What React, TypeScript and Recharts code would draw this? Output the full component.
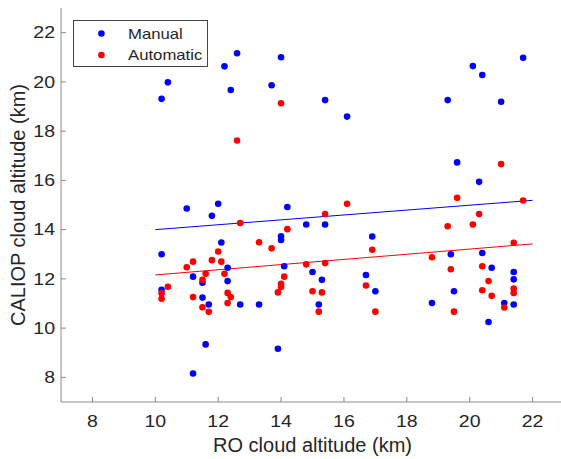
import React from 'react';
import { ScatterChart, Scatter, XAxis, YAxis, ReferenceLine, Legend, Label } from 'recharts';

const manualX = [10.2, 10.4, 12.2, 12.6, 12.4, 13.7, 14.0, 11.0, 11.8, 12.0, 15.4, 16.1, 19.3, 20.1, 20.4, 21.0, 21.7, 19.6, 20.3, 14.2, 14.8, 15.4, 10.2, 10.2, 11.2, 11.5, 11.5, 11.7, 12.1, 12.3, 12.3, 12.7, 13.3, 11.6, 11.2, 13.9, 14.0, 14.0, 14.1, 15.0, 15.3, 15.2, 16.9, 16.7, 17.0, 18.8, 19.4, 19.5, 20.4, 20.7, 20.6, 21.1, 21.4, 21.4, 21.4];
const manualY = [19.31, 19.98, 20.63, 21.16, 19.67, 19.86, 21.0, 14.86, 14.56, 15.05, 19.26, 18.59, 19.26, 20.64, 20.28, 19.19, 20.98, 16.73, 15.94, 14.92, 14.21, 14.21, 13.0, 11.56, 12.09, 11.84, 11.24, 10.96, 13.48, 12.45, 11.91, 10.96, 10.96, 9.34, 8.16, 9.16, 13.73, 13.58, 12.51, 12.28, 11.96, 10.96, 13.72, 12.16, 11.5, 11.02, 13.0, 11.5, 13.05, 12.45, 10.25, 11.02, 12.28, 11.98, 10.96];
const autoX = [12.6, 12.7, 14.0, 21.0, 19.6, 16.1, 15.4, 21.7, 20.3, 20.1, 19.3, 14.2, 10.2, 10.2, 10.4, 11.0, 11.2, 11.2, 11.5, 11.6, 11.5, 11.7, 11.8, 12.0, 12.1, 12.2, 12.3, 12.4, 12.3, 13.3, 13.7, 13.9, 14.0, 14.0, 14.1, 14.8, 15.4, 15.0, 15.3, 15.2, 16.9, 18.8, 19.4, 16.7, 17.0, 20.4, 20.6, 20.4, 20.7, 21.1, 21.4, 21.4, 21.4, 19.5];
const autoY = [17.62, 14.27, 19.13, 16.66, 15.29, 15.05, 14.63, 15.18, 14.63, 14.21, 14.14, 14.02, 11.42, 11.19, 11.68, 12.47, 12.7, 11.26, 11.96, 12.21, 10.85, 10.66, 12.76, 13.11, 12.7, 12.21, 11.43, 11.26, 11.02, 13.49, 13.24, 11.45, 11.8, 11.67, 12.09, 12.59, 12.64, 11.5, 11.45, 10.67, 13.18, 12.88, 12.39, 11.73, 10.67, 12.51, 11.91, 11.54, 11.31, 10.84, 13.47, 11.61, 11.43, 10.67];

const manualFit = [{ x: 10, y: 14.0 }, { x: 22, y: 15.19 }];
const autoFit = [{ x: 10, y: 12.16 }, { x: 22, y: 13.42 }];

const xTicks = [8, 10, 12, 14, 16, 18, 20, 22];
const yTicks = [8, 10, 12, 14, 16, 18, 20, 22];
const xDomain = [7, 23];
const yDomain = [7, 23];

const seriesNames = ['Manual', 'Automatic'];
const seriesColors = ['#0000ff', '#ff0000'];

const manualData = manualX.map((x, i) => ({ x, y: manualY[i] }));
const autoData = autoX.map((x, i) => ({ x, y: autoY[i] }));

const AX = '#8a8a8a';
const TXT = '#262626';
const FONT = '"Liberation Sans", Arial, Helvetica, sans-serif';

const XTick = (p: any) => (
  <text x={0} y={0} transform={`translate(${p.x},${p.y}) scale(1.22,1)`} dy="0.71em" textAnchor="middle" fontSize={16} fontFamily={FONT} fill={TXT}>
    {p.payload.value}
  </text>
);
const YTick = (p: any) => (
  <text x={0} y={0} transform={`translate(${p.x},${p.y}) scale(1.22,1)`} dy="0.36em" textAnchor="end" fontSize={16} fontFamily={FONT} fill={TXT}>
    {p.payload.value}
  </text>
);
const NoTick = () => null;

const XLabel = (p: any) => {
  const vb = p.viewBox || { x: 53, y: 394, width: 503, height: 57 };
  return (
    <text x={vb.x + vb.width / 2} y={vb.y + 49.5} textAnchor="middle" fontSize={20} fontFamily={FONT} fill={TXT}>
      RO cloud altitude (km)
    </text>
  );
};
const YLabel = (p: any) => {
  const vb = p.viewBox || { x: 0, y: 0, width: 53, height: 394 };
  const cx = vb.x + 10;
  const cy = vb.y + vb.height / 2;
  return (
    <text x={cx} y={cy} transform={`rotate(-90, ${cx}, ${cy})`} textAnchor="middle" dominantBaseline="central" fontSize={20} fontFamily={FONT} fill={TXT}>
      CALIOP cloud altitude (km)
    </text>
  );
};

const Dot = (color: string) => (p: any) => <circle cx={p.cx} cy={p.cy} r={3.3} fill={color} />;

const LegendBox = () => (
  <svg width={136} height={48} style={{ display: 'block' }}>
    <rect x={0.5} y={0.5} width={134} height={46} fill="#ffffff" stroke="#444" strokeWidth={1} />
    {seriesNames.map((n, i) => (
      <g key={n}>
        <circle cx={28.4} cy={13.5 + i * 21.5} r={3.3} fill={seriesColors[i]} />
        <text x={0} y={0} transform={`translate(55, ${14 + i * 21}) scale(1.13,1)`} dy="0.36em" fontSize={14.8} fontFamily={FONT} fill={TXT}>
          {n}
        </text>
      </g>
    ))}
  </svg>
);

export default function App() {
  return (
    <div style={{ position: 'fixed', left: 0, top: 0, width: 561, height: 459, overflow: 'hidden', background: '#fff' }}>
      <div style={{ position: 'absolute', left: 8, top: 8 }}>
        <ScatterChart width={556} height={451} margin={{ top: 0, right: 0, bottom: 0, left: 0 }}>
          <XAxis
            xAxisId="b"
            type="number"
            dataKey="x"
            domain={xDomain}
            ticks={xTicks}
            interval={0}
            allowDataOverflow
            height={57}
            tickSize={-5}
            tickMargin={19}
            axisLine={{ stroke: AX }}
            tickLine={{ stroke: AX }}
            tick={XTick}
          >
            <Label content={XLabel} />
          </XAxis>
          <XAxis
            xAxisId="t"
            orientation="top"
            type="number"
            domain={xDomain}
            ticks={xTicks}
            interval={0}
            allowDataOverflow
            height={0}
            tickSize={-5}
            axisLine={{ stroke: AX }}
            tickLine={{ stroke: AX }}
            tick={NoTick}
          />
          <YAxis
            yAxisId="l"
            type="number"
            dataKey="y"
            domain={yDomain}
            ticks={yTicks}
            interval={0}
            allowDataOverflow
            width={53}
            tickSize={-5}
            tickMargin={11}
            axisLine={{ stroke: AX }}
            tickLine={{ stroke: AX }}
            tick={YTick}
          >
            <Label content={YLabel} />
          </YAxis>
          <YAxis
            yAxisId="r"
            orientation="right"
            type="number"
            domain={yDomain}
            ticks={yTicks}
            interval={0}
            allowDataOverflow
            width={0}
            tickSize={-5}
            axisLine={{ stroke: AX }}
            tickLine={{ stroke: AX }}
            tick={NoTick}
          />
          <Scatter name={seriesNames[0]} data={manualData} xAxisId="b" yAxisId="l" fill={seriesColors[0]} shape={Dot(seriesColors[0])} isAnimationActive={false} />
          <Scatter name={seriesNames[1]} data={autoData} xAxisId="b" yAxisId="l" fill={seriesColors[1]} shape={Dot(seriesColors[1])} isAnimationActive={false} />
          <ReferenceLine xAxisId="b" yAxisId="l" segment={manualFit} stroke={seriesColors[0]} strokeWidth={1} ifOverflow="visible" />
          <ReferenceLine xAxisId="b" yAxisId="l" segment={autoFit} stroke={seriesColors[1]} strokeWidth={1} ifOverflow="visible" />
          <Legend
            layout="horizontal"
            verticalAlign="middle"
            align="center"
            wrapperStyle={{ position: 'absolute', left: 65, top: 12, width: 'auto', height: 'auto' }}
            content={LegendBox}
          />
        </ScatterChart>
      </div>
    </div>
  );
}
